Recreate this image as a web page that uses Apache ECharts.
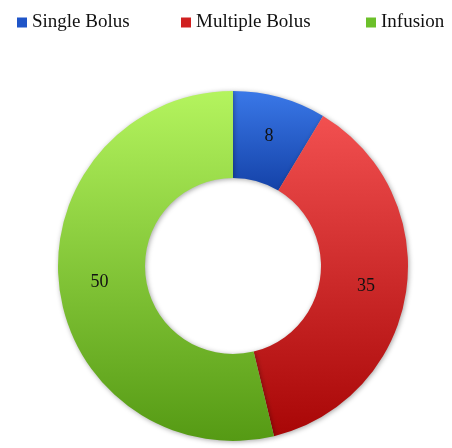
<!DOCTYPE html>
<html><head><meta charset="utf-8">
<script src="https://cdn.jsdelivr.net/npm/echarts@6/dist/echarts.min.js"></script>
<style>html,body{margin:0;padding:0;background:#fff}#c{width:452px;height:448px}</style>
</head><body><div id="c"></div>
<script>
const categories = ['Single Bolus', 'Multiple Bolus', 'Infusion'];
const values = [8, 35, 50];
const colorsTop = ['#3a78e8', '#f25050', '#b4f45e'];
const colorsBottom = ['#1442a8', '#a80606', '#559a14'];
const legendColors = ['#1f55c8', '#d02020', '#6cc02a'];
const legendLeft = [12, 176, 361];

function grad(i){
  return {type:'linear', x:0, y:0, x2:0, y2:1, colorStops:[{offset:0,color:colorsTop[i]},{offset:1,color:colorsBottom[i]}]};
}
const serif = 'Liberation Serif';
const chart = echarts.init(document.getElementById('c'), null, {renderer:'canvas'});
chart.setOption({
  animation:false,
  textStyle:{fontFamily:serif},
  color: legendColors,
  legend: categories.map((n,i)=>({
    data:[{name:n, itemStyle:{color:legendColors[i]}}],
    top: 8, left: legendLeft[i],
    icon:'rect', itemWidth:10, itemHeight:10,
    textStyle:{fontFamily:serif, fontSize:19, color:'#111'}
  })),
  series:[{
    type:'pie',
    center:[233,266],
    radius:[88,175],
    startAngle:90,
    clockwise:true,
    label:{show:true, position:'inside', fontFamily:serif, fontSize:18, color:'#111',
      formatter:'{c}'},
    labelLine:{show:false},
    emphasis:{disabled:true},
    itemStyle:{shadowBlur:5, shadowColor:'rgba(0,0,0,0.35)', shadowOffsetX:1, shadowOffsetY:1},
    data: categories.map((n,i)=>({name:n, value:values[i], itemStyle:{color:grad(i)}}))
  }]
});
</script></body></html>
